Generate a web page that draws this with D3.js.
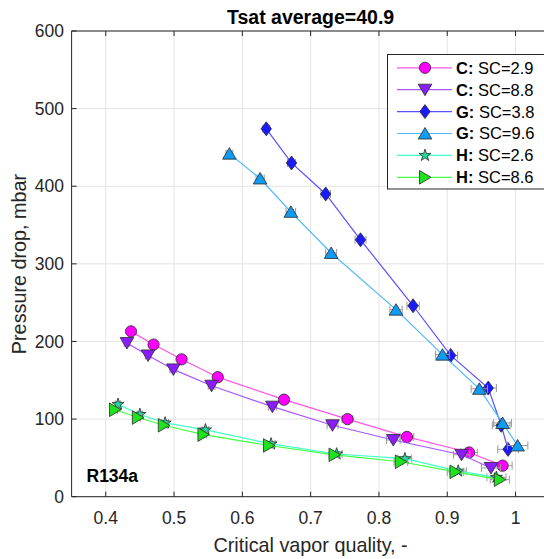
<!DOCTYPE html>
<html>
<head>
<meta charset="utf-8">
<script src="https://cdn.jsdelivr.net/npm/d3@7"></script>
<style>
  body { margin: 0; background: #fff; }
  svg { display: block; font-family: "Liberation Sans", Arial, sans-serif; }
</style>
</head>
<body>
<div id="chart-container"></div>
<script>
// values
const xTicks = [0.4, 0.5, 0.6, 0.7, 0.8, 0.9, 1];
const yTicks = [0, 100, 200, 300, 400, 500, 600];

const cX29 = [0.437, 0.470, 0.511, 0.564, 0.661, 0.754, 0.841, 0.932, 0.981];
const cY29 = [213, 196, 177, 154, 125, 100, 77, 57, 40];
const cX88 = [0.431, 0.462, 0.499, 0.555, 0.644, 0.732, 0.821, 0.921, 0.964];
const cY88 = [198, 182, 164, 143, 116, 92, 73, 54, 37];
const gX38 = [0.635, 0.672, 0.722, 0.773, 0.850, 0.905, 0.960, 0.979, 0.989];
const gY38 = [474, 430, 390, 331, 246, 182, 140, 92, 61];
const gX96 = [0.581, 0.626, 0.671, 0.730, 0.825, 0.893, 0.947, 0.981, 1.003];
const gY96 = [442, 410, 367, 314, 241, 183, 139, 95, 66];
const hX26 = [0.418, 0.450, 0.487, 0.546, 0.642, 0.738, 0.838, 0.916, 0.972];
const hY26 = [119, 106, 95, 86, 68, 55, 49, 33, 25];
const hX86 = [0.4135, 0.447, 0.485, 0.543, 0.639, 0.735, 0.832, 0.912, 0.977];
const hY86 = [112, 102, 92, 80, 66, 54, 45, 32, 22];

// horizontal / vertical error half-widths
const xErrLow  = [0.004, 0.004, 0.005, 0.005, 0.006, 0.008, 0.010, 0.012, 0.014];
const xErrHigh = [0.005, 0.006, 0.007, 0.008, 0.009, 0.010, 0.012, 0.013, 0.015];
const yErr = [3, 3, 3, 3, 3, 3, 3, 3, 3];

const series = [
  { tag: "C", label: "SC=2.9", xs: cX29, ys: cY29, xe: xErrLow,  line: "#ff55e6", fill: "#ff00ff", shape: "circle" },
  { tag: "C", label: "SC=8.8", xs: cX88, ys: cY88, xe: xErrLow,  line: "#a855ff", fill: "#8a1cff", shape: "down" },
  { tag: "G", label: "SC=3.8", xs: gX38, ys: gY38, xe: xErrHigh, line: "#5a50ff", fill: "#1a1aff", shape: "diamond" },
  { tag: "G", label: "SC=9.6", xs: gX96, ys: gY96, xe: xErrHigh, line: "#4cb8ff", fill: "#0f9cf5", shape: "up" },
  { tag: "H", label: "SC=2.6", xs: hX26, ys: hY26, xe: xErrLow,  line: "#40ffc8", fill: "#22d99c", shape: "star" },
  { tag: "H", label: "SC=8.6", xs: hX86, ys: hY86, xe: xErrLow,  line: "#44ff44", fill: "#1fe21f", shape: "right" }
];

const width = 544, height = 559;
const x = d3.scaleLinear().domain([0.35, 1.05]).range([71.6, 549.7]);
const y = d3.scaleLinear().domain([0, 600]).range([496.7, 31]);
const axisCol = "#262626";

const svg = d3.select("#chart-container")
  .append("svg")
    .attr("width", width)
    .attr("height", height);

// grid
svg.append("g").selectAll("line.gx")
  .data(xTicks).enter().append("line")
    .attr("x1", d => x(d)).attr("x2", d => x(d))
    .attr("y1", y(0)).attr("y2", y(600))
    .attr("stroke", "#e3e3e3");
svg.append("g").selectAll("line.gy")
  .data(yTicks).enter().append("line")
    .attr("x1", x(0.35)).attr("x2", x(1.05))
    .attr("y1", d => y(d)).attr("y2", d => y(d))
    .attr("stroke", "#e3e3e3");

// marker shapes (MATLAB style)
function markerPath(shape) {
  switch (shape) {
    case "circle": return d3.symbol(d3.symbolCircle, 100)();
    case "star": return d3.symbol(d3.symbolStar, 45)();
    case "diamond": return "M0,-7L5.2,0L0,7L-5.2,0Z";
    case "up": return "M0,-6L6.8,5.5L-6.8,5.5Z";
    case "down": return "M0,6L6.8,-5.5L-6.8,-5.5Z";
    case "right": return "M6,0L-5.5,6.8L-5.5,-6.8Z";
  }
}

const errCol = "#9a9a9a";
const plot = svg.append("g");

series.forEach(s => {
  const pts = s.xs.map((v, i) => ({ x: v, y: s.ys[i], xe: s.xe[i], ye: yErr[i] }));
  const g = plot.append("g");

  // error bars
  const eb = g.selectAll("g.eb").data(pts).enter().append("g")
    .attr("stroke", errCol).attr("stroke-width", 1);
  eb.append("line")
    .attr("x1", d => x(d.x - d.xe)).attr("x2", d => x(d.x + d.xe))
    .attr("y1", d => y(d.y)).attr("y2", d => y(d.y));
  eb.append("line")
    .attr("x1", d => x(d.x - d.xe)).attr("x2", d => x(d.x - d.xe))
    .attr("y1", d => y(d.y) - 4).attr("y2", d => y(d.y) + 4);
  eb.append("line")
    .attr("x1", d => x(d.x + d.xe)).attr("x2", d => x(d.x + d.xe))
    .attr("y1", d => y(d.y) - 4).attr("y2", d => y(d.y) + 4);
  eb.append("line")
    .attr("x1", d => x(d.x)).attr("x2", d => x(d.x))
    .attr("y1", d => y(d.y - d.ye)).attr("y2", d => y(d.y + d.ye));
  eb.append("line")
    .attr("x1", d => x(d.x) - 3).attr("x2", d => x(d.x) + 3)
    .attr("y1", d => y(d.y - d.ye)).attr("y2", d => y(d.y - d.ye));
  eb.append("line")
    .attr("x1", d => x(d.x) - 3).attr("x2", d => x(d.x) + 3)
    .attr("y1", d => y(d.y + d.ye)).attr("y2", d => y(d.y + d.ye));

  g.append("path")
    .datum(pts)
    .attr("fill", "none")
    .attr("stroke", s.line)
    .attr("stroke-width", 1.2)
    .attr("d", d3.line().x(d => x(d.x)).y(d => y(d.y)));

  g.selectAll("path.m").data(pts).enter().append("path")
    .attr("transform", d => `translate(${x(d.x)},${y(d.y)})`)
    .attr("d", markerPath(s.shape))
    .attr("fill", s.fill)
    .attr("stroke", "#2a2a2a")
    .attr("stroke-width", 0.8);
});

// axes box with inward ticks
svg.append("line").attr("x1", x(0.35)).attr("x2", x(1.05)).attr("y1", y(0)).attr("y2", y(0)).attr("stroke", axisCol);
svg.append("line").attr("x1", x(0.35)).attr("x2", x(1.05)).attr("y1", y(600)).attr("y2", y(600)).attr("stroke", axisCol);
svg.append("line").attr("x1", x(0.35)).attr("x2", x(0.35)).attr("y1", y(0)).attr("y2", y(600)).attr("stroke", axisCol);

xTicks.forEach(t => {
  svg.append("line").attr("x1", x(t)).attr("x2", x(t)).attr("y1", y(0)).attr("y2", y(0) - 5).attr("stroke", axisCol);
  svg.append("line").attr("x1", x(t)).attr("x2", x(t)).attr("y1", y(600)).attr("y2", y(600) + 5).attr("stroke", axisCol);
});
yTicks.forEach(t => {
  svg.append("line").attr("x1", x(0.35)).attr("x2", x(0.35) + 5).attr("y1", y(t)).attr("y2", y(t)).attr("stroke", axisCol);
});

svg.append("g").selectAll("text")
  .data(xTicks).enter().append("text")
    .attr("x", d => x(d)).attr("y", 523.5)
    .attr("text-anchor", "middle")
    .attr("font-size", 17.5).attr("fill", axisCol)
    .text(d => d3.format("~g")(d));

svg.append("g").selectAll("text")
  .data(yTicks).enter().append("text")
    .attr("x", 64).attr("y", d => y(d)).attr("dy", "0.35em")
    .attr("text-anchor", "end")
    .attr("font-size", 17.5).attr("fill", axisCol)
    .text(d => d);

svg.append("text")
  .attr("x", 310.6).attr("y", 552)
  .attr("text-anchor", "middle").attr("font-size", 19.8).attr("fill", axisCol)
  .text("Critical vapor quality, -");

svg.append("text")
  .attr("transform", "translate(25.5,264) rotate(-90)")
  .attr("text-anchor", "middle").attr("font-size", 19.8).attr("fill", axisCol)
  .text("Pressure drop, mbar");

svg.append("text")
  .attr("x", 310.6).attr("y", 24)
  .attr("text-anchor", "middle").attr("font-size", 19.5).attr("font-weight", "bold").attr("fill", "#000")
  .text("Tsat average=40.9");

svg.append("text")
  .attr("x", 86.5).attr("y", 481.5)
  .attr("font-size", 17.5).attr("font-weight", "bold").attr("fill", "#000")
  .text("R134a");

// legend
const leg = svg.append("g");
leg.append("rect")
  .attr("x", 387.5).attr("y", 54.5).attr("width", 170).attr("height", 134.5)
  .attr("fill", "#fff").attr("stroke", axisCol);

series.forEach((s, i) => {
  const cy = 67.8 + i * 21.9;
  leg.append("line").attr("x1", 397).attr("x2", 452).attr("y1", cy).attr("y2", cy)
    .attr("stroke", s.line).attr("stroke-width", 1.2);
  leg.append("path")
    .attr("transform", `translate(425,${cy})`)
    .attr("d", markerPath(s.shape))
    .attr("fill", s.fill).attr("stroke", "#2a2a2a").attr("stroke-width", 0.8);
  const t = leg.append("text").attr("x", 456).attr("y", cy).attr("dy", "0.36em")
    .attr("font-size", 16.5).attr("fill", "#000");
  t.append("tspan").attr("font-weight", "bold").text(s.tag + ":");
  t.append("tspan").text(" " + s.label);
});
</script>
</body>
</html>
